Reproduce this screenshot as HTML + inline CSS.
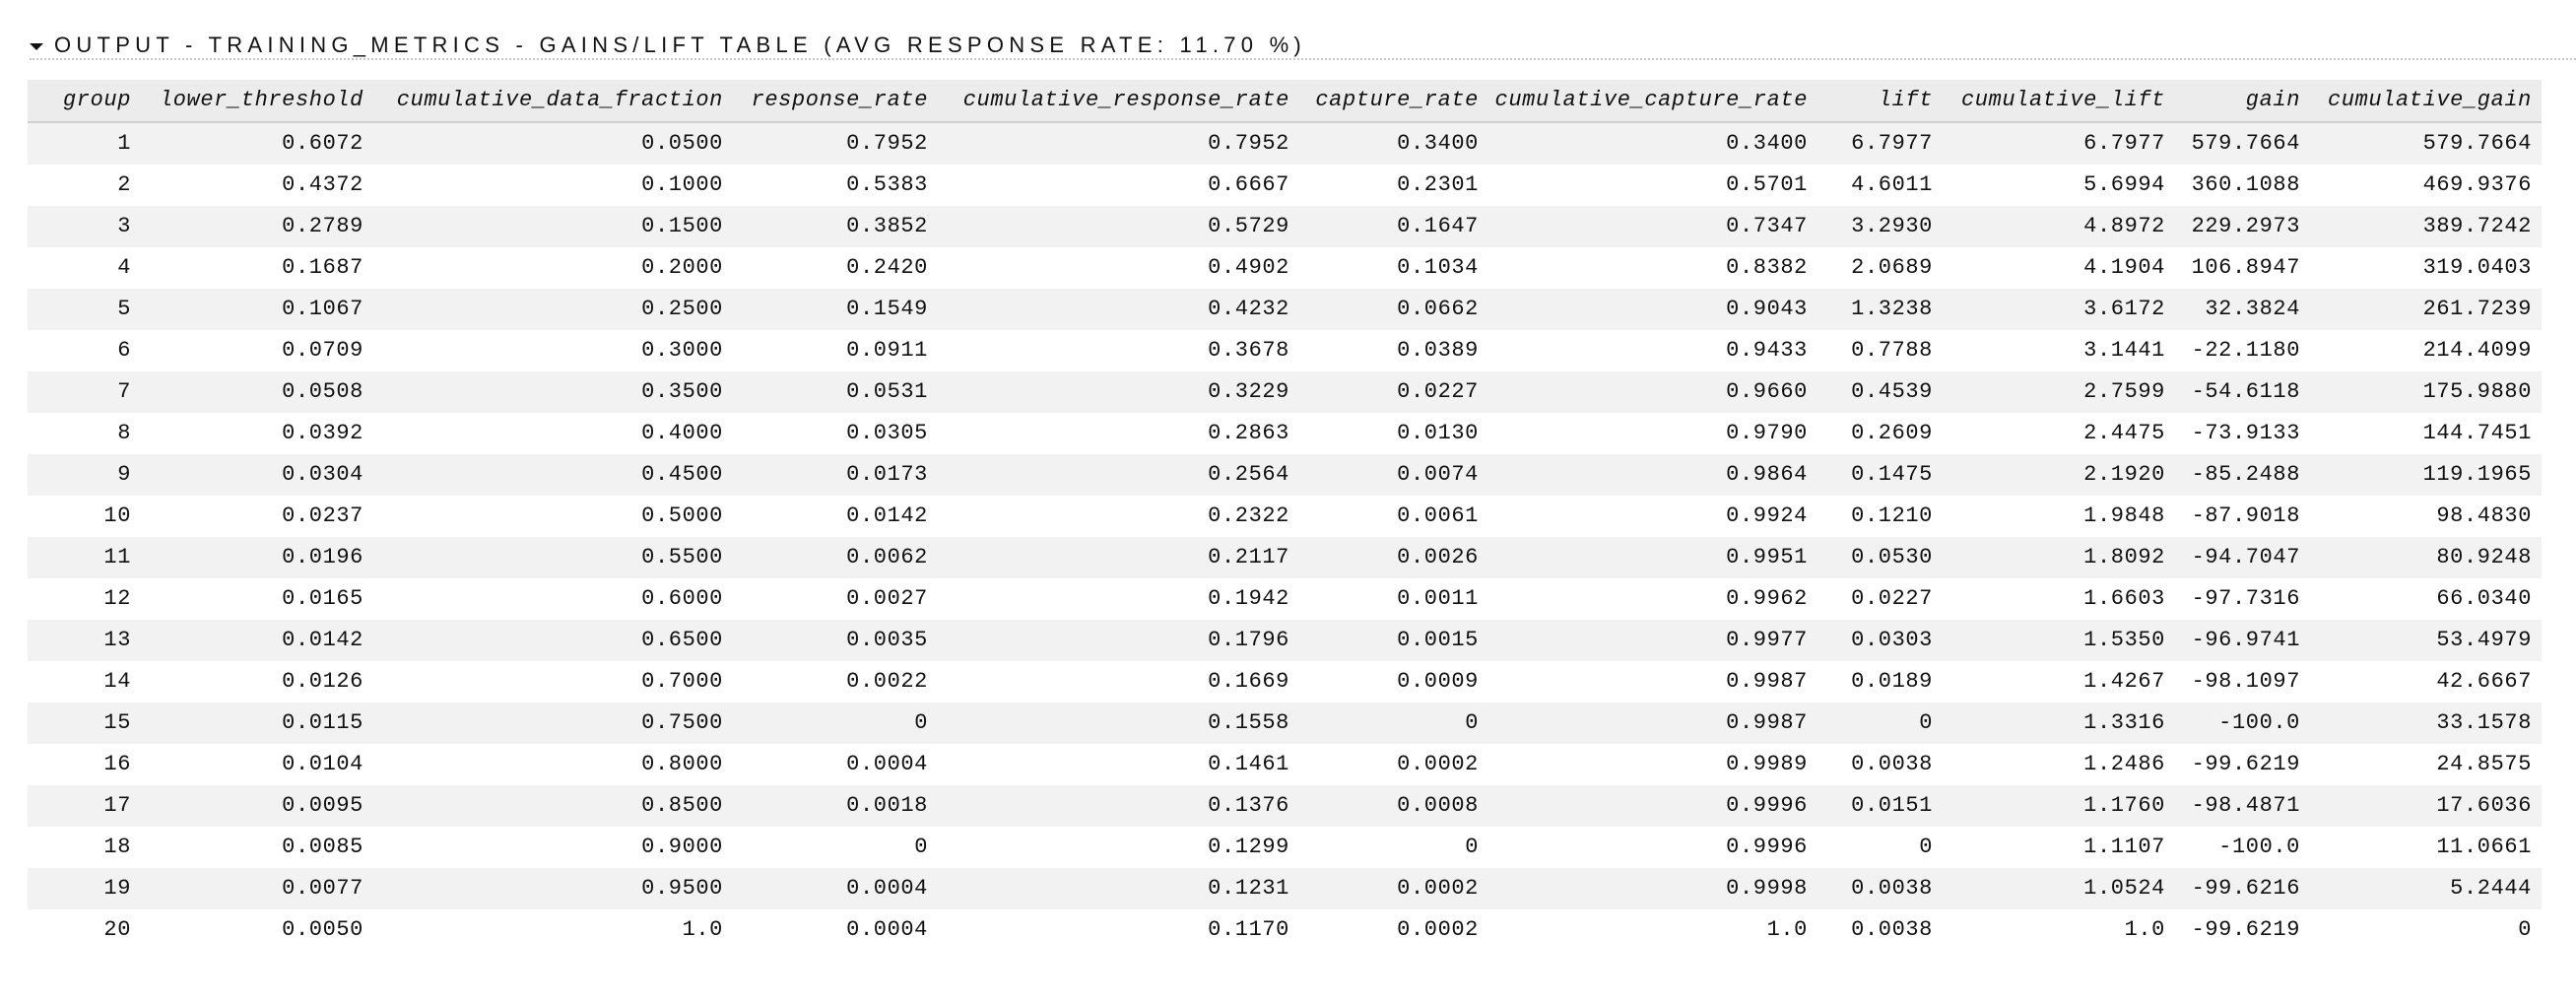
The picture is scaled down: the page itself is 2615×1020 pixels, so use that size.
<!DOCTYPE html>
<html><head><meta charset="utf-8">
<style>
html,body{margin:0;padding:0;background:#fff;width:2615px;height:1020px;overflow:hidden;}
#title{position:absolute;left:55px;top:33px;font-family:"Liberation Sans",sans-serif;font-size:22px;letter-spacing:5.2px;color:#111;white-space:nowrap;line-height:26px;}
#tri{position:absolute;left:30px;top:44px;width:0;height:0;border-left:7px solid transparent;border-right:7px solid transparent;border-top:7px solid #111;}
#rule{position:absolute;left:30px;right:0;top:59px;border-top:2px dotted #c8c8c8;}
#tbl{position:absolute;left:28px;top:81px;width:2552px;}
.row{position:relative;height:42px;}
.hdr{background:#ececec;border-bottom:2px solid #cfcfcf;height:42px;}
.odd{background:#f2f2f2;}
.cell{position:absolute;top:0;height:42px;line-height:42px;white-space:nowrap;font-family:"Liberation Mono",monospace;font-size:22px;letter-spacing:0.6px;color:#111;text-align:right;}
.hdr .cell{font-style:italic;}
</style></head>
<body>
<div id="tri"></div>
<div id="title">OUTPUT - TRAINING_METRICS - GAINS/LIFT TABLE (AVG RESPONSE RATE: 11.70 %)</div>
<div id="rule"></div>
<div id="tbl"></div>
<script>
const headers=["group","lower_threshold","cumulative_data_fraction","response_rate","cumulative_response_rate","capture_rate","cumulative_capture_rate","lift","cumulative_lift","gain","cumulative_gain"];
const groups=["1","2","3","4","5","6","7","8","9","10","11","12","13","14","15","16","17","18","19","20"];
const lowerThreshold=["0.6072","0.4372","0.2789","0.1687","0.1067","0.0709","0.0508","0.0392","0.0304","0.0237","0.0196","0.0165","0.0142","0.0126","0.0115","0.0104","0.0095","0.0085","0.0077","0.0050"];
const cumDataFraction=["0.0500","0.1000","0.1500","0.2000","0.2500","0.3000","0.3500","0.4000","0.4500","0.5000","0.5500","0.6000","0.6500","0.7000","0.7500","0.8000","0.8500","0.9000","0.9500","1.0"];
const responseRate=["0.7952","0.5383","0.3852","0.2420","0.1549","0.0911","0.0531","0.0305","0.0173","0.0142","0.0062","0.0027","0.0035","0.0022","0","0.0004","0.0018","0","0.0004","0.0004"];
const cumResponseRate=["0.7952","0.6667","0.5729","0.4902","0.4232","0.3678","0.3229","0.2863","0.2564","0.2322","0.2117","0.1942","0.1796","0.1669","0.1558","0.1461","0.1376","0.1299","0.1231","0.1170"];
const captureRate=["0.3400","0.2301","0.1647","0.1034","0.0662","0.0389","0.0227","0.0130","0.0074","0.0061","0.0026","0.0011","0.0015","0.0009","0","0.0002","0.0008","0","0.0002","0.0002"];
const cumCaptureRate=["0.3400","0.5701","0.7347","0.8382","0.9043","0.9433","0.9660","0.9790","0.9864","0.9924","0.9951","0.9962","0.9977","0.9987","0.9987","0.9989","0.9996","0.9996","0.9998","1.0"];
const lift=["6.7977","4.6011","3.2930","2.0689","1.3238","0.7788","0.4539","0.2609","0.1475","0.1210","0.0530","0.0227","0.0303","0.0189","0","0.0038","0.0151","0","0.0038","0.0038"];
const cumLift=["6.7977","5.6994","4.8972","4.1904","3.6172","3.1441","2.7599","2.4475","2.1920","1.9848","1.8092","1.6603","1.5350","1.4267","1.3316","1.2486","1.1760","1.1107","1.0524","1.0"];
const gain=["579.7664","360.1088","229.2973","106.8947","32.3824","-22.1180","-54.6118","-73.9133","-85.2488","-87.9018","-94.7047","-97.7316","-96.9741","-98.1097","-100.0","-99.6219","-98.4871","-100.0","-99.6216","-99.6219"];
const cumGain=["579.7664","469.9376","389.7242","319.0403","261.7239","214.4099","175.9880","144.7451","119.1965","98.4830","80.9248","66.0340","53.4979","42.6667","33.1578","24.8575","17.6036","11.0661","5.2444","0"];
const columns=[groups,lowerThreshold,cumDataFraction,responseRate,cumResponseRate,captureRate,cumCaptureRate,lift,cumLift,gain,cumGain];
const rightEdges=[133,369,734,942,1309,1501,1835,1962,2198,2335,2570];
const tbl=document.getElementById('tbl');
function addCell(row,text,ci,name){
  const c=document.createElement('div');
  c.className='cell';
  
  
  c.style.right=(2580-rightEdges[ci])+'px';
  c.textContent=text;
  row.appendChild(c);
}
const hr=document.createElement('div');
hr.className='row hdr';


headers.forEach((h,i)=>addCell(hr,h,i,'header-'+h.replace(/_/g,'-')));
tbl.appendChild(hr);
groups.forEach((g,r)=>{
  const row=document.createElement('div');
  row.className='row'+(r%2===0?' odd':'');
  
  
  columns.forEach((col,ci)=>addCell(row,col[r],ci,headers[ci].replace(/_/g,'-')+'-cell'));
  tbl.appendChild(row);
});
const t=document.getElementById('title');
const target=1326-55;
const w=t.getBoundingClientRect().width;
const n=t.textContent.length;
const ls=5.2+(target-w)/n;
t.style.letterSpacing=ls+'px';
</script>
</body></html>
